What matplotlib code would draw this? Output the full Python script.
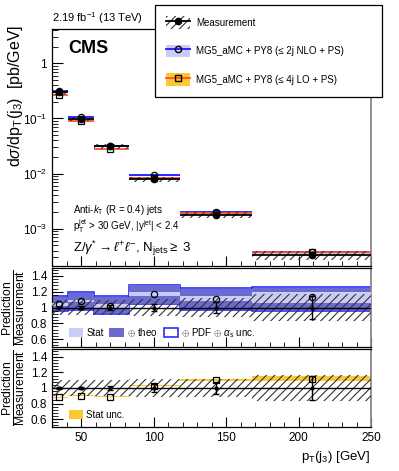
import numpy as np
import matplotlib
matplotlib.use("Agg")
import matplotlib.pyplot as plt
from matplotlib.patches import Patch
from matplotlib.lines import Line2D
from matplotlib.ticker import MultipleLocator, LogLocator, FixedLocator, NullFormatter

plt.rcParams['font.family'] = ['Liberation Sans', 'DejaVu Sans']
plt.rcParams['mathtext.fontset'] = 'custom'
plt.rcParams['mathtext.rm'] = 'Liberation Sans'
plt.rcParams['mathtext.it'] = 'Liberation Sans:italic'
plt.rcParams['mathtext.bf'] = 'Liberation Sans:bold'
plt.rcParams['hatch.linewidth'] = 0.8

# --- data ---
bins = np.array([30, 41, 59, 83, 118, 168, 250])
xc = np.array([35, 50, 70, 100, 143, 209])
meas = np.array([0.30, 0.098, 0.031, 0.0079, 0.00178, 0.00033])
meas_stat_rel = np.array([0.01, 0.015, 0.03, 0.05, 0.075, 0.15])
meas_tot_rel = np.array([0.10, 0.10, 0.10, 0.11, 0.12, 0.17])

nlo_ratio = np.array([1.04, 1.08, 1.02, 1.17, 1.11, 1.13])
nlo_stat = np.array([0.015, 0.015, 0.02, 0.025, 0.03, 0.07])
nlo_theo_lo = np.array([0.97, 0.98, 0.93, 1.05, 0.98, 0.97])
nlo_theo_hi = np.array([1.13, 1.18, 1.13, 1.28, 1.24, 1.25])

lo_ratio = np.array([0.88, 0.90, 0.89, 1.03, 1.10, 1.12])
lo_stat = np.array([0.005, 0.005, 0.005, 0.01, 0.015, 0.03])

nlo = meas * nlo_ratio
lo = meas * lo_ratio

# colours
c_light = '#cbcbf7'
c_dark = '#6a6acf'
c_blue = '#1a1aff'
c_orange = '#fcc832'
c_red = '#ff5030'
c_hatch = '#333333'

W, H = 399, 471
fig = plt.figure(figsize=(W / 100, H / 100), dpi=100)


def px_axes(x0, y0, x1, y1):
    return fig.add_axes([x0 / W, 1 - y1 / H, (x1 - x0) / W, (y1 - y0) / H])


ax = px_axes(52, 29, 371, 266)
ar1 = px_axes(52, 268, 371, 347)
ar2 = px_axes(52, 349, 371, 427)

lo_edges = bins[:-1]
hi_edges = bins[1:]
widths = np.diff(bins)

# --- main panel ---
ax.bar(lo_edges, meas * 2 * meas_tot_rel, bottom=meas * (1 - meas_tot_rel), width=widths,
       align='edge', facecolor='none', edgecolor=c_hatch, hatch='////', linewidth=0, zorder=3)
ax.bar(lo_edges, nlo * 2 * nlo_stat, bottom=nlo * (1 - nlo_stat), width=widths,
       align='edge', color=c_light, linewidth=0, zorder=1)
ax.bar(lo_edges, lo * 2 * lo_stat, bottom=lo * (1 - lo_stat), width=widths,
       align='edge', color=c_orange, linewidth=0, zorder=1)
ax.hlines(nlo, lo_edges, hi_edges, color=c_blue, lw=1.3, zorder=2)
ax.hlines(lo, lo_edges, hi_edges, color=c_red, lw=1.3, zorder=2)
ax.hlines(meas, lo_edges, hi_edges, color='black', lw=1.3, zorder=4)
ax.plot(xc, nlo, 'o', ms=4.5, mfc='none', mec='black', mew=0.9, zorder=5)
ax.plot(xc, lo, 's', ms=4.5, mfc='none', mec='black', mew=0.9, zorder=5)
ax.errorbar(xc, meas, yerr=meas * meas_stat_rel, fmt='o', ms=4.5, color='black', capsize=0, zorder=6)

ax.set_yscale('log')
ax.set_xlim(30, 250)
ax.set_ylim(2.1e-4, 4.2)
ax.yaxis.set_major_locator(FixedLocator([1e-3, 1e-2, 1e-1, 1]))
ax.set_yticklabels([r'$10^{-3}$', r'$10^{-2}$', r'$10^{-1}$', '1'])
ax.yaxis.set_minor_locator(LogLocator(base=10, subs=np.arange(2, 10)))
ax.yaxis.set_minor_formatter(NullFormatter())
ax.set_xticklabels([])
ax.set_ylabel(r'd$\sigma$/dp$_{\mathrm{T}}$(j$_{3}$)  [pb/GeV]', fontsize=11.5, loc='top')
ax.yaxis.set_label_coords(-0.085, 1.02)

ax.text(0.05, 0.955, 'CMS', transform=ax.transAxes, fontsize=13, fontweight='bold', va='top')
fig.text(52 / W, 1 - 26 / H, r'2.19 fb$^{-1}$ (13 TeV)', fontsize=8, va='bottom')
ax.text(0.065, 0.225, r'Anti-$k_{\mathrm{T}}$ (R = 0.4) jets', transform=ax.transAxes, fontsize=7)
ax.text(0.065, 0.15, r'p$_{\mathrm{T}}^{\mathrm{jet}}$ > 30 GeV, |y$^{\mathrm{jet}}$| < 2.4',
        transform=ax.transAxes, fontsize=7)
ax.text(0.065, 0.06, r'Z/$\gamma^{*}\rightarrow\ell^{+}\ell^{-}$, N$_{\mathrm{jets}}\geq$ 3',
        transform=ax.transAxes, fontsize=9.5)

# legend (tuples are drawn on top of each other)
h_meas = (Patch(facecolor='white', edgecolor=c_hatch, hatch='////', linewidth=0),
          Line2D([], [], color='black', marker='o', ms=4.5, lw=1.3))
h_nlo = (Patch(facecolor=c_light, linewidth=0),
         Line2D([], [], color=c_blue, marker='o', ms=4.5, mfc='none', mec='black', lw=1.3))
h_lo = (Patch(facecolor=c_orange, linewidth=0),
        Line2D([], [], color=c_red, marker='s', ms=4.5, mfc='none', mec='black', lw=1.3))
leg = fig.legend([h_meas, h_nlo, h_lo],
                 ['Measurement', 'MG5_aMC + PY8 (≤ 2j NLO + PS)', 'MG5_aMC + PY8 (≤ 4j LO + PS)'],
                 loc='upper left', bbox_to_anchor=(155 / W, 1 - 98 / H, 227 / W, 93 / H),
                 mode='expand', fontsize=7, frameon=True, fancybox=False, framealpha=1,
                 edgecolor='black', handlelength=2.5, handleheight=1.6, labelspacing=1.65,
                 borderpad=1.15, handletextpad=0.6, borderaxespad=0)
leg.get_frame().set_linewidth(0.9)

# --- ratio 1: NLO ---
ar1.bar(lo_edges, nlo_theo_hi - nlo_theo_lo + 0.02, bottom=nlo_theo_lo - 0.01, width=widths,
        align='edge', facecolor='white', edgecolor=c_blue, linewidth=1.1, zorder=1)
ar1.bar(lo_edges, nlo_theo_hi - nlo_theo_lo, bottom=nlo_theo_lo, width=widths,
        align='edge', color=c_dark, linewidth=0, zorder=2)
ar1.bar(lo_edges, 2 * nlo_stat, bottom=nlo_ratio - nlo_stat, width=widths,
        align='edge', color=c_light, linewidth=0, zorder=3)
ar1.plot(xc, nlo_ratio, 'o', ms=4.5, mfc='none', mec='black', mew=0.9, zorder=6)

# --- ratio 2: LO ---
ar2.bar(lo_edges, 2 * lo_stat, bottom=lo_ratio - lo_stat, width=widths,
        align='edge', color=c_orange, linewidth=0, zorder=2)
ar2.plot(xc, lo_ratio, 's', ms=4.5, mfc='none', mec='black', mew=0.9, zorder=6)

for a in (ar1, ar2):
    a.bar(lo_edges, 2 * meas_tot_rel, bottom=1 - meas_tot_rel, width=widths, align='edge',
          facecolor='none', edgecolor=c_hatch, hatch='////', linewidth=0, zorder=4)
    a.axhline(1, color='black', lw=1.0, zorder=5)
    a.errorbar(xc, np.ones_like(xc, dtype=float), yerr=meas_stat_rel, fmt='o', ms=2,
               color='black', capsize=2, elinewidth=1, zorder=7)
    a.set_xlim(30, 250)
    a.set_ylim(0.5, 1.5)
    a.yaxis.set_major_locator(FixedLocator([0.6, 0.8, 1.0, 1.2, 1.4]))
    a.set_yticklabels(['0.6', '0.8', '1', '1.2', '1.4'])
    a.yaxis.set_minor_locator(MultipleLocator(0.04))
    a.set_ylabel(r'$\frac{\mathrm{Prediction}}{\mathrm{Measurement}}$', fontsize=12.5)
    a.yaxis.set_label_coords(-0.075, 0.5)

ar1.set_xticklabels([])
ar2.set_xlabel(r'p$_{\mathrm{T}}$(j$_{3}$) [GeV]', fontsize=9.5, loc='right')

ar1.legend([Patch(facecolor=c_light), Patch(facecolor=c_dark),
            Patch(facecolor='white', edgecolor=c_blue, linewidth=1.1)],
           ['Stat', r'$\oplus$ theo', r'$\oplus$ PDF $\oplus$ $\alpha_{\mathrm{s}}$ unc.'],
           ncol=3, loc='lower left', bbox_to_anchor=(0.025, -0.02), frameon=False, fontsize=7,
           handlelength=1.5, handleheight=1.0, handletextpad=0.3, columnspacing=0.6)
ar2.legend([Patch(facecolor=c_orange)], ['Stat unc.'], loc='lower left',
           bbox_to_anchor=(0.025, -0.02), frameon=False, fontsize=7,
           handlelength=1.5, handleheight=1.0, handletextpad=0.3)

for a in (ax, ar1, ar2):
    a.xaxis.set_major_locator(MultipleLocator(50))
    a.xaxis.set_minor_locator(MultipleLocator(10))
    a.tick_params(which='both', direction='in', top=False, right=False, labelsize=8.5)
    a.tick_params(which='major', axis='y', length=8, width=0.8)
    a.tick_params(which='minor', axis='y', length=4, width=0.6)
    a.tick_params(which='major', axis='x', length=7, width=0.8)
    a.tick_params(which='minor', axis='x', length=3.5, width=0.6)
    for s in a.spines.values():
        s.set_linewidth(0.9)
    a.spines['right'].set_color('#888888')
    a.spines['right'].set_linewidth(1.3)

fig.savefig('out.png', dpi=100)
